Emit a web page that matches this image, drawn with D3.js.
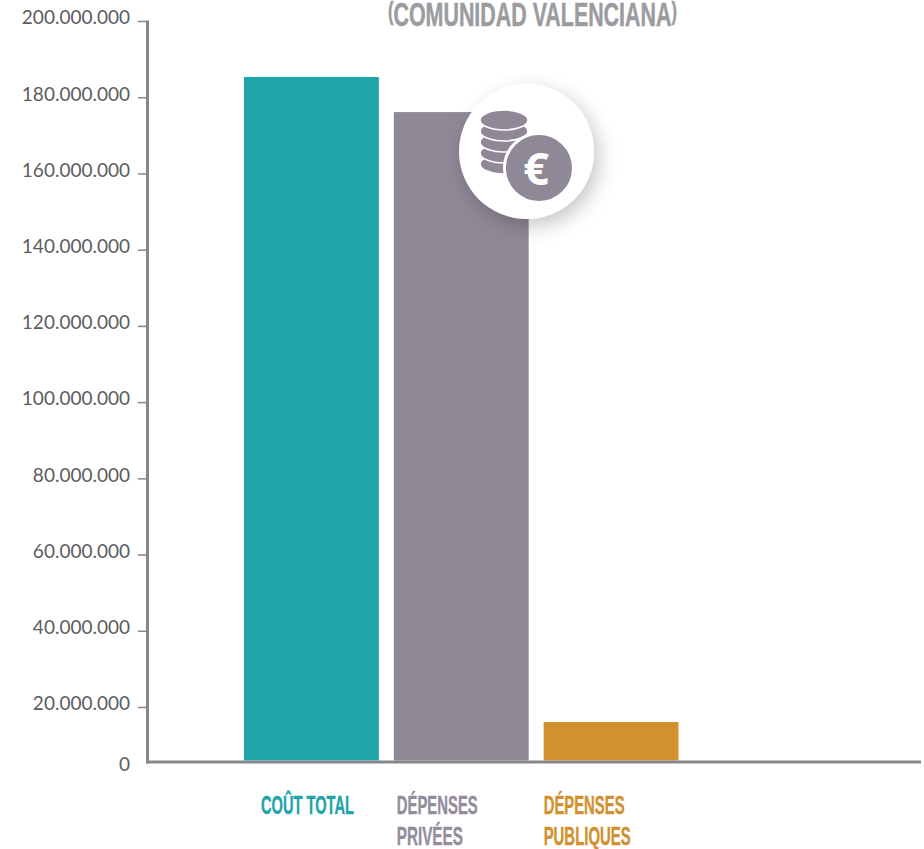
<!DOCTYPE html>
<html lang="fr">
<head>
<meta charset="utf-8">
<script src="https://cdn.jsdelivr.net/npm/d3@7/dist/d3.min.js"></script>
<style>
  html, body { margin: 0; padding: 0; background: #fff; }
  svg { display: block; }
  .tick-label { font-family: Lato, "Open Sans", sans-serif; font-size: 19px; fill: #5c5c5e; }
  .display { font-family: "Liberation Sans Narrow", "Liberation Sans", sans-serif; font-weight: 700; }
</style>
</head>
<body>
<svg id="chart" width="924" height="849"></svg>
<script>
// Regional cost breakdown, in euros
const categories = ["COÛT TOTAL", "DÉPENSES PRIVÉES", "DÉPENSES PUBLIQUES"];
const values = [185300000, 176100000, 14400000];
const barColors = ["#1ea5a8", "#8f8897", "#d2912e"];
const labelColors = ["#1ea5a8", "#938d9c", "#d2912e"];
const labelLines = [["COÛT TOTAL"], ["DÉPENSES", "PRIVÉES"], ["DÉPENSES", "PUBLIQUES"]];
const tickValues = [0, 20000000, 40000000, 60000000, 80000000, 100000000, 120000000, 140000000, 160000000, 180000000, 200000000];
const titleText = "COMUNIDAD VALENCIANA";
const coinLayers = [4, 3, 2, 1, 0];

const svg = d3.select("#chart");
const axisColor = "#87878b";

// The first interval of the axis is drawn shorter than the others
const y = d3.scaleLinear()
  .domain([0, 20000000, 200000000])
  .range([760.5, 707, 21]);

const x = d3.scaleBand()
  .domain(categories)
  .range([244, 678.5])
  .paddingInner(0.1);

const formatThousands = d3.formatLocale({ decimal: ",", thousands: ".", grouping: [3], currency: ["", "€"] }).format(",d");

// Condenses a text horizontally until it spans the wanted width
function fitWidth(selection, px, py, width) {
  const natural = selection.node().getComputedTextLength();
  selection.attr("transform", `translate(${px},${py}) scale(${width / natural},1)`);
}

const defs = svg.append("defs");
const shadow = defs.append("filter")
  .attr("id", "badge-shadow")
  .attr("x", "-30%").attr("y", "-30%").attr("width", "170%").attr("height", "170%");
shadow.append("feDropShadow")
  .attr("dx", 5).attr("dy", 7).attr("stdDeviation", 10)
  .attr("flood-color", "#000").attr("flood-opacity", 0.22);

// Bars
svg.append("g").selectAll("rect")
  .data(categories)
  .join("rect")
  .attr("x", d => x(d))
  .attr("width", x.bandwidth())
  .attr("y", (d, i) => y(values[i]))
  .attr("height", (d, i) => y(0) - y(values[i]))
  .attr("fill", (d, i) => barColors[i]);

// Vertical axis with dotted-thousands labels
const yAxis = svg.append("g")
  .attr("transform", "translate(147,0)")
  .call(d3.axisLeft(y).tickValues(tickValues).tickFormat(formatThousands).tickSize(9).tickPadding(0));

yAxis.select(".domain").remove();
yAxis.selectAll(".tick line")
  .attr("stroke", axisColor)
  .attr("stroke-width", 1.5)
  .attr("display", d => d === 0 ? "none" : null);
yAxis.selectAll(".tick text")
  .attr("class", "tick-label")
  .attr("x", -17)
  .attr("dy", d => d === 0 ? "0.55em" : "0.15em")
  .attr("text-anchor", "end");

svg.append("line")
  .attr("x1", 147.5).attr("x2", 147.5)
  .attr("y1", y(200000000) - 0.5).attr("y2", 763.5)
  .attr("stroke", axisColor).attr("stroke-width", 3);
svg.append("line")
  .attr("x1", 146).attr("x2", 921)
  .attr("y1", 762).attr("y2", 762)
  .attr("stroke", axisColor).attr("stroke-width", 3);

// Title, reaching the top edge of the page; the brackets stay within the cap height
const title = svg.append("text")
  .attr("class", "display")
  .attr("font-size", 34)
  .attr("fill", "#9a9ca0")
  .attr("stroke", "#9a9ca0")
  .attr("stroke-width", 0.5);
title.append("tspan").attr("font-size", 26).attr("dy", -5.5).text("(");
title.append("tspan").attr("dy", 5.5).text(titleText);
title.append("tspan").attr("font-size", 26).attr("dy", -5.5).text(")");
fitWidth(title, 388, 25.5, 289);

// Category captions
const labelOffsets = [17, 3, 0];
const labelWidths = [[93], [81, 66], [81, 87]];
svg.append("g").selectAll("g")
  .data(categories)
  .join("g")
  .each(function (d, i) {
    d3.select(this).selectAll("text")
      .data(labelLines[i])
      .join("text")
      .attr("class", "display")
      .attr("font-size", 26)
      .attr("fill", labelColors[i])
      .attr("stroke", labelColors[i])
      .attr("stroke-width", 0.4)
      .text(line => line)
      .each(function (line, j) {
        fitWidth(d3.select(this), x(d) + labelOffsets[i], 814 + j * 31, labelWidths[i][j]);
      });
  });

// Coin badge
const badge = svg.append("g");
const iconColor = "#8f8897";
badge.append("circle")
  .attr("cx", 526.5).attr("cy", 151.5).attr("r", 67.5)
  .attr("fill", "#fff")
  .attr("filter", "url(#badge-shadow)");
badge.append("g").selectAll("ellipse")
  .data(coinLayers)
  .join("ellipse")
  .attr("cx", 504)
  .attr("cy", d => 120 + d * 11)
  .attr("rx", 24)
  .attr("ry", 10)
  .attr("fill", iconColor)
  .attr("stroke", "#fff")
  .attr("stroke-width", 1.6);
badge.append("circle")
  .attr("cx", 539).attr("cy", 168).attr("r", 34.5)
  .attr("fill", iconColor)
  .attr("stroke", "#fff")
  .attr("stroke-width", 3);
badge.append("text")
  .attr("x", 536).attr("y", 185)
  .attr("text-anchor", "middle")
  .attr("font-family", "'Open Sans', sans-serif")
  .attr("font-weight", 700)
  .attr("font-size", 45)
  .attr("fill", "#fff")
  .text("€");
</script>
</body>
</html>
